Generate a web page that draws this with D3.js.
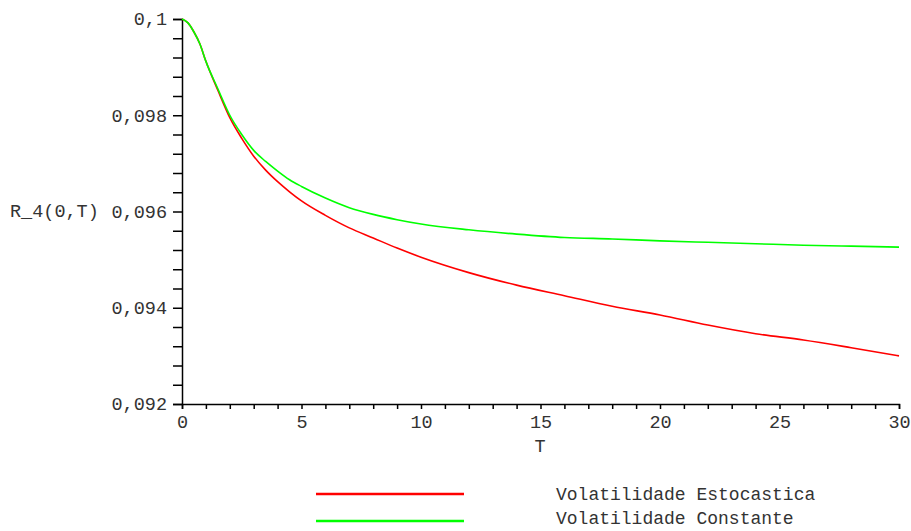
<!DOCTYPE html>
<html><head><meta charset="utf-8">
<script src="https://cdn.jsdelivr.net/npm/d3@7"></script>
<style>
body{margin:0;background:#fff;}
text{font-family:"Liberation Mono","Courier New",monospace;fill:#333;}
</style></head>
<body><svg id="c" width="911" height="531"></svg>
<script>
const tValues = [0,0.25,0.5,0.75,1,1.5,2,2.5,3,3.5,4,4.5,5,6,7,8,9,10,12,14,16,18,20,22,24,26,28,30];
const estocastica = [0.1,0.09992,0.09973,0.09948,0.09912,0.09852,0.09795,0.09752,0.09715,0.09686,0.09662,0.09641,0.09622,0.09592,0.09566,0.09545,0.09524,0.09505,0.09473,0.09447,0.09425,0.09403,0.09385,0.09364,0.09346,0.09333,0.09317,0.09300];
const constante = [0.1,0.09992,0.09973,0.09948,0.09912,0.09855,0.09800,0.09760,0.09727,0.09704,0.09684,0.09666,0.09652,0.09628,0.09608,0.09594,0.09583,0.09574,0.09562,0.09553,0.09546,0.09543,0.09539,0.09536,0.09533,0.09530,0.09528,0.09526];
const xTicks = [0,5,10,15,20,25,30];
const yTicks = [0.092,0.094,0.096,0.098,0.1];
const yTickLabels = ["0,092","0,094","0,096","0,098","0,1"];
const seriesNames = ["Volatilidade Estocastica","Volatilidade Constante"];
const seriesColors = ["#ff0000","#00ff00"];

const svg = d3.select("#c");
const x = d3.scaleLinear().domain([0,30]).range([182,899]);
const y = d3.scaleLinear().domain([0.092,0.1]).range([404,19]);

const yMinor = d3.range(0,21).map(i=>0.092+i*0.0004);
const xMinor = d3.range(0,31);

const yAxis = d3.axisLeft(y).tickValues(yMinor).tickSize(9).tickFormat(d=>{
  const i = yTicks.findIndex(v=>Math.abs(v-d)<1e-9);
  return i>=0 ? yTickLabels[i] : "";
}).tickPadding(6);
const gy = svg.append("g").attr("transform","translate(182,0)").call(yAxis);
gy.select(".domain").attr("stroke","#000").attr("stroke-width",1.5);
gy.selectAll(".tick line").attr("stroke","#000").attr("stroke-width",1.5);
gy.selectAll("text").style("font-size","18.5px").attr("fill","#333");

const xAxis = d3.axisBottom(x).tickValues(xMinor).tickSize(5).tickFormat(d=>xTicks.includes(d)?String(d):"").tickPadding(6);
const gx = svg.append("g").attr("transform","translate(0,404)").call(xAxis);
gx.select(".domain").attr("stroke","#000").attr("stroke-width",1.5);
gx.selectAll(".tick line").attr("stroke","#000").attr("stroke-width",1.5);
gx.selectAll("text").style("font-size","18.5px").attr("fill","#333");

svg.append("text").attr("x",10).attr("y",y(0.096)).attr("dy","0.32em").style("font-size","18.5px").text("R_4(0,T)");
svg.append("text").attr("x",540).attr("y",446).attr("dy","0.32em").attr("text-anchor","middle").style("font-size","18.5px").text("T");

const line = d3.line().x((d,i)=>x(tValues[i])).y(d=>y(d)).curve(d3.curveMonotoneX);
[estocastica, constante].forEach((s,k)=>{
  svg.append("path").attr("d",line(s)).attr("fill","none").attr("stroke",seriesColors[k]).attr("stroke-width",1.6);
});

const legY = [494,521];
const legTextY = [494,518];
seriesNames.forEach((n,k)=>{
  svg.append("line").attr("x1",316).attr("x2",464).attr("y1",legY[k]).attr("y2",legY[k]).attr("stroke",seriesColors[k]).attr("stroke-width",2.5);
  svg.append("text").attr("x",556).attr("y",legTextY[k]).attr("dy","0.32em").style("font-size","18px").text(n);
});
</script></body></html>
